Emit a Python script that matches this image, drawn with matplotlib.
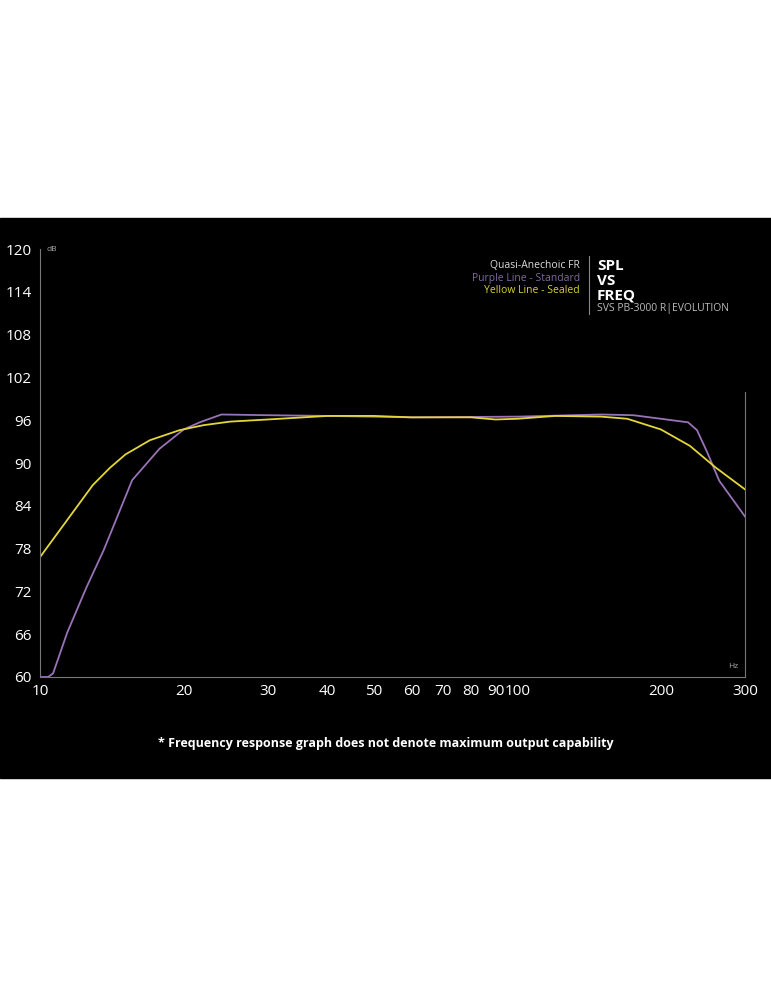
import matplotlib
matplotlib.use("Agg")
import matplotlib.pyplot as plt
import numpy as np

plt.rcParams["font.family"] = ["Open Sans", "DejaVu Sans"]

# Yellow (sealed) curve
yel_f = [10, 11.4, 12.9, 14, 15.1, 17, 19.6, 22, 25, 30, 40, 50, 60, 80, 90, 100, 120, 150, 170, 200, 230, 260, 300]
yel_db = [76.8, 82, 86.9, 89.3, 91.2, 93.2, 94.6, 95.3, 95.8, 96.1, 96.6, 96.6, 96.4, 96.4, 96.1, 96.2, 96.6, 96.5, 96.2, 94.7, 92.4, 89.4, 86.3]

# Purple (standard) curve
pur_f = [10, 10.4, 10.65, 11.4, 12.5, 13.6, 15.6, 17.8, 20, 21.6, 24, 30, 40, 60, 100, 150, 175, 200, 228, 238, 250, 265, 300]
pur_db = [60, 60, 60.5, 66.2, 72.5, 77.8, 87.6, 92.0, 94.7, 95.7, 96.8, 96.7, 96.6, 96.4, 96.5, 96.8, 96.7, 96.2, 95.7, 94.6, 91.5, 87.5, 82.5]

yticks = [60, 66, 72, 78, 84, 90, 96, 102, 108, 114, 120]
xticks = [10, 20, 30, 40, 50, 60, 70, 80, 90, 100, 200, 300]

fig = plt.figure(figsize=(7.71, 10), dpi=100)
fig.patch.set_facecolor("white")
# black panel
fig.patches.append(plt.Rectangle((0, 1 - 778 / 1000), 1, 560 / 1000, transform=fig.transFigure,
                                 color="black", zorder=-1))

ax = fig.add_axes([40 / 771, 1 - 677 / 1000, 705 / 771, 428 / 1000])
ax.set_facecolor("black")
ax.set_xscale("log")
ax.set_xlim(10, 300)
ax.set_ylim(60, 120)

ax.plot(pur_f, pur_db, color="#9a72b8", lw=1.3)
ax.plot(yel_f, yel_db, color="#e3d63a", lw=1.3)

ax.set_yticks(yticks)
ax.set_yticklabels([str(v) for v in yticks])
ax.set_xticks(xticks)
ax.set_xticklabels([str(v) for v in xticks])
ax.xaxis.set_minor_locator(matplotlib.ticker.NullLocator())
ax.tick_params(colors="white", length=0, labelsize=11)
ax.tick_params(axis="y", pad=6)
ax.tick_params(axis="x", pad=5)
ax.spines["top"].set_visible(False)
for s in ["left", "bottom", "right"]:
    ax.spines[s].set_color("#777777")
ax.spines["right"].set_bounds(60, 100)

ax.text(10.3, 120, "dB", color="#aaaaaa", fontsize=6, va="center")
ax.text(290, 61, "Hz", color="#aaaaaa", fontsize=6, ha="right", va="bottom")

# legend block
fig.text(580 / 771, 1 - 265 / 1000, "Quasi-Anechoic FR", color="#dddddd", fontsize=7.5, ha="right", va="center")
fig.text(580 / 771, 1 - 278 / 1000, "Purple Line - Standard", color="#7e6a9e", fontsize=7.5, ha="right", va="center")
fig.text(580 / 771, 1 - 291 / 1000, "Yellow Line - Sealed", color="#d8cf3a", fontsize=7.5, ha="right", va="center")
fig.add_artist(plt.Line2D([589 / 771, 589 / 771], [1 - 256 / 1000, 1 - 314 / 1000], color="#888888", lw=0.8))
for i, t in enumerate(["SPL", "VS", "FREQ"]):
    fig.text(597 / 771, 1 - (266 + i * 15) / 1000, t, color="white", fontsize=11, fontweight="bold", va="center")
fig.text(597 / 771, 1 - 308 / 1000, "SVS PB-3000 R|EVOLUTION", color="#bbbbbb", fontsize=7.5, va="center")

fig.text(386 / 771, 1 - 744 / 1000, "* Frequency response graph does not denote maximum output capability",
         color="white", fontsize=9, fontweight="bold", ha="center", va="center")

fig.savefig("out.png", dpi=100, facecolor="white")
